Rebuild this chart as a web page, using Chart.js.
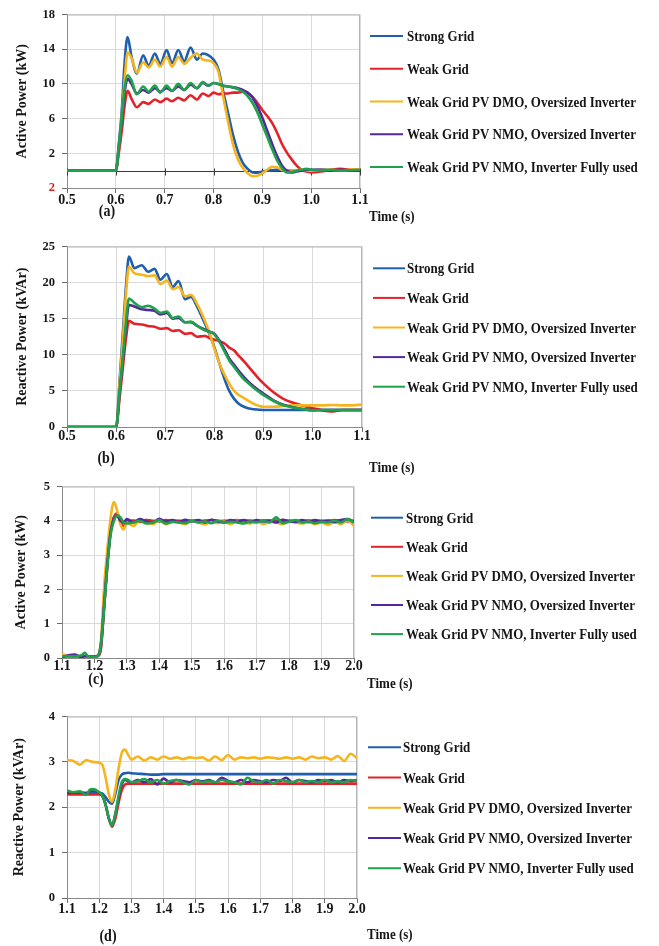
<!DOCTYPE html>
<html>
<head>
<meta charset="utf-8">
<script src="https://cdn.jsdelivr.net/npm/chart.js@4.4.1/dist/chart.umd.min.js"></script>
<style>
  html, body { margin: 0; padding: 0; background: #ffffff; }
  #page { position: relative; width: 659px; height: 946px; overflow: hidden; }
  .panel { position: absolute; left: 0; width: 659px; }
  canvas { display: block; }
</style>
</head>
<body>
<div id="page">
  <div class="panel" style="top:0px"><canvas id="panelA" width="659" height="232"></canvas></div>
  <div class="panel" style="top:232px"><canvas id="panelB" width="659" height="246"></canvas></div>
  <div class="panel" style="top:472px"><canvas id="panelC" width="659" height="230"></canvas></div>
  <div class="panel" style="top:702px"><canvas id="panelD" width="659" height="244"></canvas></div>
</div>
<script>
// ---- series ----
const seriesNames = [
  'Strong Grid',
  'Weak Grid',
  'Weak Grid PV DMO, Oversized Inverter',
  'Weak Grid PV NMO, Oversized Inverter',
  'Weak Grid PV NMO, Inverter Fully used'
];
const seriesColors = ['#1f5fae', '#e42229', '#f6b41d', '#54279a', '#1fa24b'];

// ---- (a) active power during the fault, kW ----
const timeA = [0.5, 0.6, 0.606, 0.612, 0.618, 0.624, 0.632, 0.643, 0.656, 0.667, 0.68, 0.691, 0.704, 0.715, 0.728, 0.74, 0.753, 0.766, 0.778, 0.79,
  0.8, 0.81, 0.82, 0.83, 0.84, 0.85, 0.86, 0.87, 0.88, 0.89, 0.9, 0.91, 0.92, 0.93, 0.94, 0.95, 0.96, 0.97, 0.98, 0.99, 1.0, 1.02, 1.04, 1.06, 1.08, 1.1];
const strongA = [0, 0, 3.0, 6.8, 12.5, 15.4, 13.2, 11.2, 13.3, 12.1, 13.5, 12.3, 13.9, 12.4, 13.9, 12.6, 14.2, 12.8, 13.5, 13.3,
  12.8, 11.7, 9.1, 6.6, 4.1, 2.2, 0.9, 0.2, -0.2, -0.25, -0.1, 0.0, 0.05, 0.1, 0.05, 0, 0, 0, 0.05, 0.05, 0.05, 0.1, 0.05, 0.1, 0.05, 0.1];
const weakA = [0, 0, 2.0, 4.5, 7.5, 9.2, 8.3, 7.3, 7.9, 7.7, 8.2, 7.9, 8.3, 8.0, 8.4, 8.1, 8.7, 8.2, 8.9, 8.6,
  9.0, 8.8, 8.9, 8.9, 9.0, 9.0, 9.1, 8.9, 8.5, 7.8, 7.0, 6.3, 5.5, 4.4, 3.1, 2.1, 1.3, 0.6, 0.1, -0.1, -0.2, -0.1, 0.1, 0.2, 0.1, 0.1];
const dmoA = [0, 0, 2.5, 6.0, 10.5, 13.6, 13.0, 11.3, 12.5, 11.9, 12.8, 12.0, 13.1, 12.0, 13.1, 12.3, 13.0, 13.5, 12.8, 12.7,
  12.4, 11.4, 8.5, 5.6, 3.0, 1.3, 0.3, -0.3, -0.65, -0.6, -0.3, 0.1, 0.45, 0.4, 0.1, 0, 0, 0.05, 0.1, 0.05, 0, 0.1, 0.1, 0.05, 0.1, 0.15];
const nmoOverA = [0, 0, 2.5, 5.5, 9.0, 10.6, 10.0, 8.9, 9.3, 9.0, 9.5, 9.1, 9.5, 9.2, 9.7, 9.3, 9.9, 9.5, 10.1, 9.8,
  10.1, 10.0, 9.8, 9.7, 9.6, 9.5, 9.3, 9.0, 8.4, 7.4, 6.1, 4.6, 3.1, 1.7, 0.6, 0.0, -0.2, -0.1, 0, 0.1, 0.1, 0.1, 0.05, 0.1, 0.05, 0.05];
const nmoFullA = [0, 0, 2.8, 6.0, 9.5, 11.0, 10.4, 8.8, 9.7, 9.1, 9.8, 9.0, 9.8, 9.2, 10.0, 9.3, 10.1, 9.5, 10.2, 9.8,
  10.1, 10.0, 9.8, 9.7, 9.6, 9.4, 9.1, 8.6, 7.8, 6.7, 5.3, 3.9, 2.5, 1.2, 0.3, -0.2, -0.2, 0.0, 0.1, 0.2, 0.1, 0.05, 0.1, 0.0, 0.05, 0.1];
const xTicksA = [0.5, 0.6, 0.7, 0.8, 0.9, 1.0, 1.1];
const xLabelsA = ['0.5', '0.6', '0.7', '0.8', '0.9', '1.0', '1.1'];
const yTicksA = [-2, 2, 6, 10, 14, 18];
const yLabelsA = ['2', '2', '6', '10', '14', '18'];

// ---- (b) reactive power during the fault, kVAr ----
const timeB = [0.5, 0.6, 0.607, 0.614, 0.62, 0.626, 0.637, 0.652, 0.665, 0.678, 0.69, 0.703, 0.715, 0.727, 0.74, 0.752, 0.765,
  0.78, 0.79, 0.8, 0.81, 0.82, 0.83, 0.84, 0.85, 0.86, 0.87, 0.88, 0.89, 0.9, 0.92, 0.94, 0.96, 0.98, 1.0, 1.02, 1.04, 1.06, 1.08, 1.1];
const strongB = [0, 0, 6.5, 13.5, 19.5, 23.6, 22.0, 22.4, 21.5, 21.9, 20.4, 21.2, 19.4, 20.2, 17.7, 18.0, 16.6,
  14.4, 12.8, 11.0, 8.8, 6.7, 5.0, 3.9, 3.2, 2.8, 2.55, 2.45, 2.4, 2.35, 2.35, 2.35, 2.35, 2.35, 2.35, 2.35, 2.35, 2.35, 2.35, 2.35];
const weakB = [0, 0, 4.0, 8.5, 12.3, 14.7, 14.3, 14.2, 14.0, 13.9, 13.6, 13.7, 13.3, 13.4, 12.9, 13.0, 12.5,
  12.6, 12.3, 12.1, 11.9, 11.6, 11.0, 10.6, 9.8, 9.1, 8.3, 7.5, 6.7, 6.0, 4.8, 3.9, 3.35, 2.95, 2.6, 2.3, 2.15, 2.35, 2.35, 2.35];
const dmoB = [0, 0, 6.0, 12.5, 18.5, 22.2, 21.3, 21.1, 20.9, 21.0, 19.8, 20.3, 19.1, 19.4, 18.1, 18.3, 17.0,
  14.8, 13.0, 10.8, 8.8, 7.3, 6.0, 5.0, 4.4, 4.0, 3.6, 3.2, 2.95, 2.8, 2.8, 2.9, 3.0, 3.0, 3.0, 3.0, 3.05, 3.0, 3.0, 3.1];
const nmoOverB = [0, 0, 4.8, 9.5, 13.8, 16.9, 16.7, 16.3, 16.2, 16.1, 15.6, 15.8, 15.0, 15.1, 14.5, 14.5, 14.0,
  13.5, 13.2, 12.9, 12.0, 10.8, 9.5, 8.6, 7.7, 6.9, 6.2, 5.6, 5.1, 4.6, 3.7, 3.1, 2.75, 2.5, 2.35, 2.35, 2.35, 2.35, 2.35, 2.35];
const nmoFullB = [0, 0, 5.0, 10.0, 14.5, 17.8, 17.2, 16.6, 16.8, 16.4, 15.8, 16.0, 15.1, 15.3, 14.5, 14.6, 14.0,
  13.4, 13.2, 12.8, 11.8, 10.5, 9.2, 8.3, 7.4, 6.6, 6.0, 5.4, 4.9, 4.4, 3.6, 3.0, 2.7, 2.45, 2.3, 2.35, 2.35, 2.35, 2.35, 2.35];
const xTicksB = [0.5, 0.6, 0.7, 0.8, 0.9, 1.0, 1.1];
const xLabelsB = ['0.5', '0.6', '0.7', '0.8', '0.9', '1.0', '1.1'];
const yTicksB = [0, 5, 10, 15, 20, 25];
const yLabelsB = ['0', '5', '10', '15', '20', '25'];

// ---- (c) active power after recovery, kW ----
const timeCD = [1.1, 1.12, 1.14, 1.16, 1.17, 1.18, 1.2, 1.21, 1.22, 1.23, 1.24, 1.25, 1.26, 1.27, 1.28, 1.29, 1.3,
  1.32, 1.34, 1.36, 1.38, 1.4, 1.42, 1.44, 1.46, 1.48, 1.5, 1.52, 1.54, 1.56, 1.58, 1.6, 1.62, 1.64, 1.66, 1.68, 1.7,
  1.72, 1.74, 1.76, 1.78, 1.8, 1.82, 1.84, 1.86, 1.88, 1.9, 1.92, 1.94, 1.96, 1.98, 2.0];
const strongC = [0.05, 0.05, 0.05, 0.05, 0.05, 0.05, 0.05, 0.06, 0.3, 1.5, 2.8, 3.7, 4.1, 4.15, 4.05, 3.98, 4.0,
  4.0, 3.98, 4.02, 4.0, 3.98, 4.0, 4.01, 3.99, 4.0, 4.0, 3.98, 4.01, 4.0, 3.99, 4.0, 4.0, 3.99, 4.01, 4.0, 3.98,
  4.0, 4.0, 4.01, 3.99, 4.0, 4.0, 3.98, 4.0, 4.0, 3.99, 4.0, 3.98, 4.0, 4.0, 3.97];
const weakC = [0.05, 0.05, 0.05, 0.05, 0.05, 0.05, 0.05, 0.06, 0.3, 1.5, 2.7, 3.7, 4.1, 4.22, 4.0, 3.85, 3.95,
  4.0, 3.97, 4.02, 3.98, 4.0, 4.02, 3.98, 4.0, 3.97, 4.01, 4.0, 3.98, 4.02, 4.0, 3.97, 4.0, 4.02, 3.99, 4.0, 3.98,
  4.01, 4.0, 3.97, 4.02, 4.0, 3.98, 4.0, 4.01, 3.98, 4.0, 3.99, 4.02, 4.0, 3.98, 4.0];
const dmoC = [0.12, 0.05, 0.08, 0.02, 0.05, 0.03, 0.04, 0.06, 0.5, 2.1, 3.2, 4.1, 4.55, 4.3, 3.9, 3.75, 3.95,
  3.85, 4.0, 3.95, 3.9, 4.0, 3.9, 3.98, 3.95, 3.9, 4.0, 3.95, 3.9, 3.97, 3.93, 3.98, 3.9, 4.0, 3.95, 3.92, 4.0,
  3.9, 3.97, 3.95, 3.9, 3.98, 3.95, 3.92, 3.97, 3.9, 3.95, 3.88, 3.97, 3.9, 4.02, 3.85];
const nmoOverC = [0.03, 0.08, 0.1, 0.02, 0.05, 0.05, 0.04, 0.06, 0.4, 1.6, 2.8, 3.7, 4.05, 4.15, 4.0, 3.95, 4.05,
  3.95, 4.05, 3.98, 3.95, 4.06, 3.97, 4.02, 3.96, 4.03, 3.98, 4.02, 3.95, 4.03, 3.98, 3.95, 4.02, 3.97, 4.02, 3.96, 4.02,
  3.98, 4.0, 3.95, 4.03, 3.98, 3.97, 4.02, 3.96, 4.02, 3.98, 4.0, 3.96, 4.02, 4.05, 3.97];
const nmoFullC = [0.05, 0.05, 0.05, 0.08, 0.15, 0.05, 0.03, 0.06, 0.4, 1.5, 2.7, 3.6, 4.0, 4.15, 4.1, 3.95, 3.92,
  3.95, 4.0, 3.92, 3.95, 4.02, 3.92, 3.97, 3.95, 3.93, 4.0, 3.95, 3.98, 3.93, 4.0, 3.95, 3.97, 3.95, 3.92, 3.98, 3.95,
  4.0, 3.95, 4.1, 3.93, 3.97, 4.02, 3.95, 3.98, 3.93, 3.97, 3.95, 4.0, 3.95, 4.05, 3.95];
const xTicksCD = [1.1, 1.2, 1.3, 1.4, 1.5, 1.6, 1.7, 1.8, 1.9, 2.0];
const xLabelsCD = ['1.1', '1.2', '1.3', '1.4', '1.5', '1.6', '1.7', '1.8', '1.9', '2.0'];
const yTicksC = [0, 1, 2, 3, 4, 5];
const yLabelsC = ['0', '1', '2', '3', '4', '5'];

// ---- (d) reactive power after recovery, kVAr ----
const strongD = [2.32, 2.32, 2.32, 2.32, 2.32, 2.32, 2.32, 2.3, 2.22, 2.12, 2.08, 2.3, 2.6, 2.72, 2.75, 2.76, 2.75,
  2.74, 2.73, 2.72, 2.72, 2.73, 2.73, 2.73, 2.73, 2.73, 2.73, 2.73, 2.73, 2.73, 2.73, 2.73, 2.73, 2.73, 2.73, 2.73, 2.73,
  2.73, 2.73, 2.73, 2.73, 2.73, 2.73, 2.73, 2.73, 2.73, 2.73, 2.73, 2.73, 2.73, 2.73, 2.73];
const weakD = [2.28, 2.28, 2.28, 2.28, 2.28, 2.28, 2.28, 2.25, 2.05, 1.75, 1.57, 1.75, 2.1, 2.38, 2.5, 2.52, 2.52,
  2.52, 2.52, 2.52, 2.52, 2.52, 2.52, 2.52, 2.52, 2.52, 2.52, 2.52, 2.52, 2.52, 2.52, 2.52, 2.52, 2.52, 2.52, 2.52, 2.52,
  2.52, 2.52, 2.52, 2.52, 2.52, 2.52, 2.52, 2.52, 2.52, 2.52, 2.52, 2.52, 2.52, 2.52, 2.52];
const dmoD = [3.04, 3.02, 2.94, 3.04, 3.02, 3.0, 2.98, 2.93, 2.65, 2.28, 2.12, 2.4, 2.85, 3.2, 3.27, 3.15, 3.05,
  3.12, 3.03, 3.1, 3.05, 3.12, 3.07, 3.1, 3.06, 3.1, 3.08, 3.1, 3.03, 3.12, 3.04, 3.15, 3.05, 3.1, 3.08, 3.1, 3.07,
  3.1, 3.09, 3.07, 3.1, 3.07, 3.1, 3.05, 3.12, 3.08, 3.1, 3.05, 3.13, 3.02, 3.18, 3.08];
const nmoOverD = [2.33, 2.32, 2.33, 2.3, 2.35, 2.37, 2.32, 2.25, 2.05, 1.75, 1.6, 1.85, 2.2, 2.5, 2.6, 2.58, 2.55,
  2.6, 2.55, 2.62, 2.5, 2.63, 2.55, 2.6, 2.58, 2.55, 2.6, 2.57, 2.6, 2.55, 2.65, 2.58, 2.55, 2.6, 2.55, 2.6, 2.57,
  2.55, 2.6, 2.58, 2.65, 2.55, 2.6, 2.58, 2.55, 2.6, 2.58, 2.6, 2.55, 2.6, 2.58, 2.6];
const nmoFullD = [2.37, 2.33, 2.35, 2.27, 2.38, 2.4, 2.33, 2.25, 2.05, 1.75, 1.6, 1.85, 2.25, 2.55, 2.62, 2.6, 2.55,
  2.58, 2.62, 2.55, 2.6, 2.52, 2.58, 2.6, 2.55, 2.5, 2.6, 2.55, 2.58, 2.55, 2.6, 2.57, 2.55, 2.5, 2.65, 2.57, 2.55,
  2.6, 2.52, 2.6, 2.58, 2.55, 2.6, 2.55, 2.58, 2.55, 2.6, 2.55, 2.57, 2.55, 2.6, 2.58];
const yTicksD = [0, 1, 2, 3, 4];
const yLabelsD = ['0', '1', '2', '3', '4'];

// ---- drawing ----
const SERIF = '"Liberation Serif", "Times New Roman", serif';
const INK = '#161616';
const TEXT_STRETCH = 1.2;   // captions are set slightly tall

function tallText(ctx, text, x, y) {
  ctx.save();
  ctx.translate(x, y);
  ctx.scale(1, TEXT_STRETCH);
  ctx.fillText(text, 0, 0);
  ctx.restore();
}

// legend drawn beside the plot: one short coloured line + label per series
const sideLegend = {
  id: 'sideLegend',
  afterDraw(chart, args, o) {
    const ctx = chart.ctx;
    ctx.save();
    ctx.font = 'bold ' + o.size + 'px ' + SERIF;
    ctx.textAlign = 'left';
    ctx.textBaseline = 'middle';
    chart.data.datasets.forEach((ds, i) => {
      const y = o.y0 + i * o.gap;
      ctx.strokeStyle = ds.borderColor;
      ctx.lineWidth = 2;
      ctx.beginPath();
      ctx.moveTo(o.x0, y);
      ctx.lineTo(o.x1, y);
      ctx.stroke();
      ctx.fillStyle = INK;
      tallText(ctx, ds.label, o.tx, y + 1);
    });
    ctx.restore();
  }
};

// plot frame, optional zero line, axis caption and panel letter
const panelDecor = {
  id: 'panelDecor',
  beforeDatasetsDraw(chart, args, o) {
    const {ctx, chartArea: a, scales} = chart;
    ctx.save();
    ctx.strokeStyle = '#b4b4b4';
    ctx.lineWidth = 1;
    ctx.beginPath();
    ctx.moveTo(a.left, a.top + 0.5);
    ctx.lineTo(a.right - 0.5, a.top + 0.5);
    ctx.lineTo(a.right - 0.5, a.bottom);
    ctx.stroke();
    if (o.zeroLine) {
      const y = Math.round(scales.y.getPixelForValue(0)) + 0.5;
      ctx.strokeStyle = '#3a3a3a';
      ctx.beginPath();
      ctx.moveTo(a.left, y);
      ctx.lineTo(a.right, y);
      scales.x.ticks.forEach(t => {
        const x = Math.round(scales.x.getPixelForValue(t.value)) + 0.5;
        ctx.moveTo(x, y - 3);
        ctx.lineTo(x, y + 4);
      });
      ctx.stroke();
    }
    ctx.restore();
  },
  afterDraw(chart, args, o) {
    const ctx = chart.ctx;
    ctx.save();
    ctx.fillStyle = INK;
    ctx.textBaseline = 'middle';
    ctx.font = 'bold 13px ' + SERIF;
    ctx.textAlign = 'left';
    tallText(ctx, 'Time (s)', o.timeX, o.timeY);
    ctx.font = 'bold 14px ' + SERIF;
    ctx.textAlign = 'center';
    tallText(ctx, o.letter, o.letterX, o.letterY);
    ctx.restore();
  }
};

function makePanel(id, p) {
  const canvas = document.getElementById(id);
  const H = canvas.height;
  const datasets = p.series.map((vals, i) => ({
    label: seriesNames[i],
    data: p.time.map((t, k) => ({x: t, y: vals[k]})),
    borderColor: seriesColors[i],
    backgroundColor: seriesColors[i],
    borderWidth: 2.6,
    pointRadius: 0,
    cubicInterpolationMode: 'monotone',
    fill: false,
    order: seriesNames.length - 1 - i
  }));
  return new Chart(canvas, {
    type: 'line',
    data: {datasets},
    options: {
      responsive: false,
      animation: false,
      events: [],
      layout: {padding: {left: 0, top: p.box.top, right: canvas.width - p.box.right, bottom: 0}},
      plugins: {
        legend: {display: false},
        tooltip: {enabled: false},
        sideLegend: p.legend,
        panelDecor: p.decor
      },
      scales: {
        x: {
          type: 'linear',
          min: p.xTicks[0],
          max: p.xTicks[p.xTicks.length - 1],
          afterBuildTicks: s => { s.ticks = p.xTicks.map(v => ({value: v})); },
          afterFit: s => { s.height = H - p.box.bottom; },
          ticks: {
            font: {family: SERIF, weight: 'bold', size: 14}, color: INK, padding: p.xPad,
            maxRotation: 0, autoSkip: false,
            callback: (v, i) => p.xLabels[i]
          },
          grid: {color: '#dadada', lineWidth: 1, tickColor: '#6a6a6a', tickLength: 5},
          border: {display: true, color: '#8a8a8a', width: 1}
        },
        y: {
          type: 'linear',
          min: p.yTicks[0],
          max: p.yTicks[p.yTicks.length - 1],
          afterBuildTicks: s => { s.ticks = p.yTicks.map(v => ({value: v})); },
          afterFit: s => { s.width = p.box.left; },
          ticks: {
            font: {family: SERIF, weight: 'bold', size: 12.5}, padding: 7, autoSkip: false,
            color: c => (p.yColors && p.yColors[c.index]) || INK,
            callback: (v, i) => p.yLabels[i]
          },
          title: {
            display: true, text: p.yTitle, color: INK,
            font: {family: SERIF, weight: 'bold', size: 14},
            padding: {top: p.titlePad, bottom: 0}
          },
          grid: {color: '#dadada', lineWidth: 1, tickColor: '#6a6a6a', tickLength: 5},
          border: {display: true, color: '#8a8a8a', width: 1}
        }
      }
    },
    plugins: [sideLegend, panelDecor]
  });
}

makePanel('panelA', {
  time: timeA,
  series: [strongA, weakA, dmoA, nmoOverA, nmoFullA],
  xTicks: xTicksA, xLabels: xLabelsA,
  yTicks: yTicksA, yLabels: yLabelsA,
  yColors: ['#e0201f'],
  yTitle: 'Active Power (kW)',
  box: {left: 67, right: 360, top: 10, bottom: 188},
  xPad: -1.5, titlePad: 14,
  legend: {x0: 370, x1: 403, tx: 407, y0: 36, gap: 32.75, size: 13},
  decor: {zeroLine: true, timeX: 369, timeY: 217, letter: '(a)', letterX: 107, letterY: 212}
});

makePanel('panelB', {
  time: timeB,
  series: [strongB, weakB, dmoB, nmoOverB, nmoFullB],
  xTicks: xTicksB, xLabels: xLabelsB,
  yTicks: yTicksB, yLabels: yLabelsB,
  yTitle: 'Reactive Power (kVAr)',
  box: {left: 67, right: 362, top: 14, bottom: 195},
  xPad: -4, titlePad: 14,
  legend: {x0: 373, x1: 405, tx: 407, y0: 36.3, gap: 29.6, size: 13},
  decor: {zeroLine: false, timeX: 369, timeY: 236, letter: '(b)', letterX: 106, letterY: 227}
});

makePanel('panelC', {
  time: timeCD,
  series: [strongC, weakC, dmoC, nmoOverC, nmoFullC],
  xTicks: xTicksCD, xLabels: xLabelsCD,
  yTicks: yTicksC, yLabels: yLabelsC,
  yTitle: 'Active Power (kW)',
  box: {left: 62, right: 354, top: 11, bottom: 186},
  xPad: -5, titlePad: 13,
  legend: {x0: 371, x1: 403, tx: 406, y0: 45.7, gap: 29.1, size: 13},
  decor: {zeroLine: false, timeX: 367, timeY: 212, letter: '(c)', letterX: 96, letterY: 208}
});

makePanel('panelD', {
  time: timeCD,
  series: [strongD, weakD, dmoD, nmoOverD, nmoFullD],
  xTicks: xTicksCD, xLabels: xLabelsCD,
  yTicks: yTicksD, yLabels: yLabelsD,
  yTitle: 'Reactive Power (kVAr)',
  box: {left: 67, right: 357, top: 12, bottom: 196},
  xPad: -2.5, titlePad: 11,
  legend: {x0: 368, x1: 401, tx: 403, y0: 45.3, gap: 30.25, size: 13},
  decor: {zeroLine: false, timeX: 367, timeY: 233, letter: '(d)', letterX: 108, letterY: 235}
});
</script>
</body>
</html>
